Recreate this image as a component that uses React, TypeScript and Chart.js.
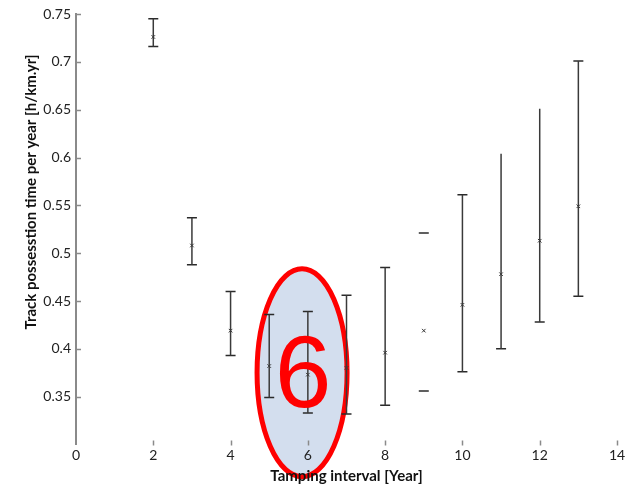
import React, { useEffect, useRef } from "react";
import { Chart, registerables } from "chart.js";

Chart.register(...registerables);

const xValues = [2, 3, 4, 5, 6, 7, 8, 9, 10, 11, 12, 13];
const meanValues = [0.726, 0.508, 0.419, 0.382, 0.373, 0.38, 0.396, 0.419, 0.446, 0.478, 0.513, 0.549];
const lowerValues = [0.716, 0.488, 0.393, 0.349, 0.333, 0.332, 0.341, 0.356, 0.376, 0.4, 0.428, 0.455];
const upperValues = [0.745, 0.537, 0.46, 0.436, 0.439, 0.456, 0.485, 0.521, 0.561, 0.604, 0.651, 0.701];
const hasStem = [true, true, true, true, true, true, true, false, true, true, true, true];
const hasUpperCap = [true, true, true, true, true, true, true, true, true, false, false, true];
const hasLowerCap = [true, true, true, true, true, true, true, true, true, true, true, true];

const yTickValues = [0.35, 0.4, 0.45, 0.5, 0.55, 0.6, 0.65, 0.7, 0.75];
const xTickValues = [0, 2, 4, 6, 8, 10, 12, 14];

const xTitle = "Tamping interval [Year]";
const yTitle = "Track possesstion time per year [h/km.yr]";
const calloutLabel = "6";
const calloutCenter = { x: 5.85, y: 0.375 };

const FONT = "Lato, 'Open Sans', sans-serif";

const overlayPlugin = {
  id: "overlay",
  beforeDraw(chart: any) {
    const ctx = chart.ctx;
    const xs = chart.scales.x;
    const ys = chart.scales.y;
    const cx = xs.getPixelForValue(calloutCenter.x);
    const cy = ys.getPixelForValue(calloutCenter.y);
    ctx.save();
    ctx.beginPath();
    ctx.ellipse(cx, cy, 45, 104, 0, 0, Math.PI * 2);
    ctx.fillStyle = "#d3deee";
    ctx.fill();
    ctx.lineWidth = 5;
    ctx.strokeStyle = "#ff0000";
    ctx.stroke();
    ctx.restore();
  },
  beforeDatasetsDraw(chart: any) {
    const ctx = chart.ctx;
    const xs = chart.scales.x;
    const ys = chart.scales.y;
    const area = chart.chartArea;
    ctx.save();
    ctx.strokeStyle = "#8a8a8a";
    ctx.lineWidth = 1.5;
    yTickValues.forEach((v) => {
      const py = Math.round(ys.getPixelForValue(v)) + 0.5;
      ctx.beginPath();
      ctx.moveTo(area.left, py);
      ctx.lineTo(area.left + 5, py);
      ctx.stroke();
    });
    xTickValues.forEach((v) => {
      if (v === 0) return;
      const px = Math.round(xs.getPixelForValue(v)) + 0.5;
      ctx.beginPath();
      ctx.moveTo(px, area.bottom + 1);
      ctx.lineTo(px, area.bottom - 4);
      ctx.stroke();
    });
    ctx.fillStyle = "#111";
    ctx.font = `bold 15px ${FONT}`;
    ctx.textAlign = "center";
    ctx.textBaseline = "middle";
    ctx.fillText(xTitle, (area.left + area.right) / 2, 476);
    ctx.translate(31, 192);
    ctx.rotate(-Math.PI / 2);
    ctx.fillText(yTitle, 0, 0);
    ctx.restore();
  },
  afterDatasetsDraw(chart: any) {
    const ctx = chart.ctx;
    const xs = chart.scales.x;
    const ys = chart.scales.y;
    const cx = xs.getPixelForValue(calloutCenter.x);
    const cy = ys.getPixelForValue(calloutCenter.y);
    ctx.save();
    ctx.fillStyle = "#ff0000";
    ctx.font = `102px 'Liberation Sans', sans-serif`;
    ctx.textAlign = "center";
    ctx.textBaseline = "alphabetic";
    ctx.fillText(calloutLabel, cx + 1, cy + 34);
    ctx.restore();
  },
};

export default function App() {
  const ref = useRef<HTMLCanvasElement | null>(null);
  useEffect(() => {
    if (!ref.current) return;
    const stemData: any[] = [];
    xValues.forEach((x, i) => {
      if (!hasStem[i]) return;
      stemData.push({ x, y: lowerValues[i] });
      stemData.push({ x, y: upperValues[i] });
      stemData.push({ x, y: null });
    });
    const capData: any[] = [];
    xValues.forEach((x, i) => {
      if (hasUpperCap[i]) capData.push({ x, y: upperValues[i] });
      if (hasLowerCap[i]) capData.push({ x, y: lowerValues[i] });
    });
    const meanData = xValues.map((x, i) => ({ x, y: meanValues[i] }));

    const chart = new Chart(ref.current, {
      type: "scatter",
      data: {
        datasets: [
          {
            data: stemData,
            showLine: true,
            spanGaps: false,
            borderColor: "#3a3a3a",
            borderWidth: 1.5,
            pointRadius: 0,
          } as any,
          {
            data: capData,
            pointStyle: "line",
            pointRadius: 5,
            borderColor: "#2a2a2a",
            borderWidth: 1.5,
          } as any,
          {
            data: meanData,
            pointStyle: "crossRot",
            pointRadius: 2.5,
            borderColor: "#333",
            borderWidth: 1,
          } as any,
        ],
      },
      plugins: [overlayPlugin],
      options: {
        responsive: false,
        animation: false,
        events: [],
        layout: { padding: { top: 14, right: 16, left: 0, bottom: 0 } },
        plugins: { legend: { display: false }, tooltip: { enabled: false } },
        scales: {
          x: {
            type: "linear",
            min: 0,
            max: 14,
            afterFit: (s: any) => {
              s.height = 41.5;
            },
            afterBuildTicks: (s: any) => {
              s.ticks = xTickValues.map((v) => ({ value: v }));
            },
            ticks: {
              padding: 3,
              color: "#222",
              font: { family: FONT, size: 14 },
              callback: (v: any) => String(v),
            },
            grid: { display: false, drawTicks: false },
            border: { display: false },
          },
          y: {
            type: "linear",
            min: 0.3,
            max: 0.75,
            afterFit: (s: any) => {
              s.width = 76;
            },
            afterBuildTicks: (s: any) => {
              s.ticks = yTickValues.map((v) => ({ value: v }));
            },
            ticks: {
              padding: 5,
              color: "#222",
              font: { family: FONT, size: 14 },
              callback: (v: any) => String(Number(Number(v).toFixed(2))),
            },
            grid: { display: false, drawTicks: false },
            border: { display: true, color: "#8a8a8a", width: 2 },
          },
        },
      },
    });
    return () => chart.destroy();
  }, []);
  return (
    <div style={{ position: "absolute", left: 0, top: 0, width: 633, height: 486, background: "#fff" }}>
      <canvas ref={ref} width={633} height={486} />
    </div>
  );
}
